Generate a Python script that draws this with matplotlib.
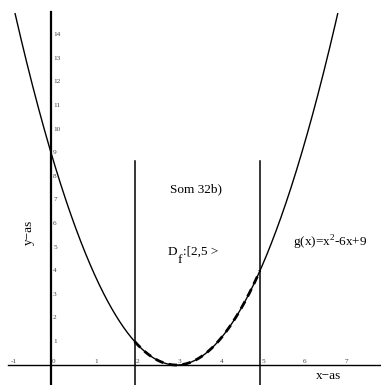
import numpy as np
import matplotlib
matplotlib.use("Agg")
import matplotlib.pyplot as plt

# data
x_ticks = [-1, 0, 1, 2, 3, 4, 5, 6, 7]
y_ticks = list(range(1, 15))
coef = [1, -6, 9]          # g(x) = x^2 - 6x + 9
domain = [2, 5]            # D_f : [2,5>
vlines_x = [2, 5]
vline_top = 8.65

plt.rcParams['font.family'] = ['Liberation Serif', 'DejaVu Serif']

fig = plt.figure(figsize=(3.81, 3.85), dpi=100)
ax = fig.add_axes([0, 0, 1, 1])
ax.set_xlim(-1.22, 7.895)
ax.set_ylim(-0.847, 15.47)
ax.axis('off')

# grid dots
gx, gy = np.meshgrid(np.arange(-1, 8), np.arange(-1, 16))
ax.scatter(gx.ravel(), gy.ravel(), s=0.5, c='#b0b0b0', marker='s', linewidths=0, zorder=1)

# axes lines
ax.plot([-1.03, 7.895], [0, 0], color='black', lw=1.0, zorder=3)
ax.plot([0, 0], [-0.847, 14.96], color='black', lw=1.6, zorder=3)

# tick labels
for t in x_ticks:
    ax.text(t + 0.03, 0.03, str(t), fontsize=5.2, ha='left', va='bottom', color='#444444')
for t in y_ticks:
    ax.text(0.05, t, str(t), fontsize=5.2, ha='left', va='center', color='#444444')

# vertical lines
for xv in vlines_x:
    ax.plot([xv, xv], [-0.847, vline_top], color='black', lw=1.1, zorder=3)

# curve
xs = np.linspace(-1.3, 7.3, 800)
ys = np.polyval(coef, xs)
ys = np.where(ys <= 14.97, ys, np.nan)
ax.plot(xs, ys, color='black', lw=1.0, zorder=4)

xd = np.linspace(domain[0], domain[1], 300)
ax.plot(xd, np.polyval(coef, xd), color='black', lw=2.0, ls=(0, (3, 2)), zorder=5)

# texts
ax.text(3.46, 7.46, "Som 32b)", fontsize=9.5, ha='center', va='center')
ax.text(2.8, 4.79, "D", fontsize=9.5, ha='left', va='center')
ax.text(3.02, 4.45, "f", fontsize=9.5, ha='left', va='center')
ax.text(3.17, 4.79, ":[2,5 >", fontsize=9.5, ha='left', va='center')
ax.text(5.79, 5.17, r"g(x)=x$^\mathregular{2}$-6x+9", fontsize=9.5, ha='left', va='center')
ax.text(-0.53, 5.64, "y−as", fontsize=9.5, ha='center', va='center', rotation=90)
ax.text(6.63, -0.47, "x−as", fontsize=9.5, ha='center', va='center')

fig.savefig("out.png", dpi=100)
